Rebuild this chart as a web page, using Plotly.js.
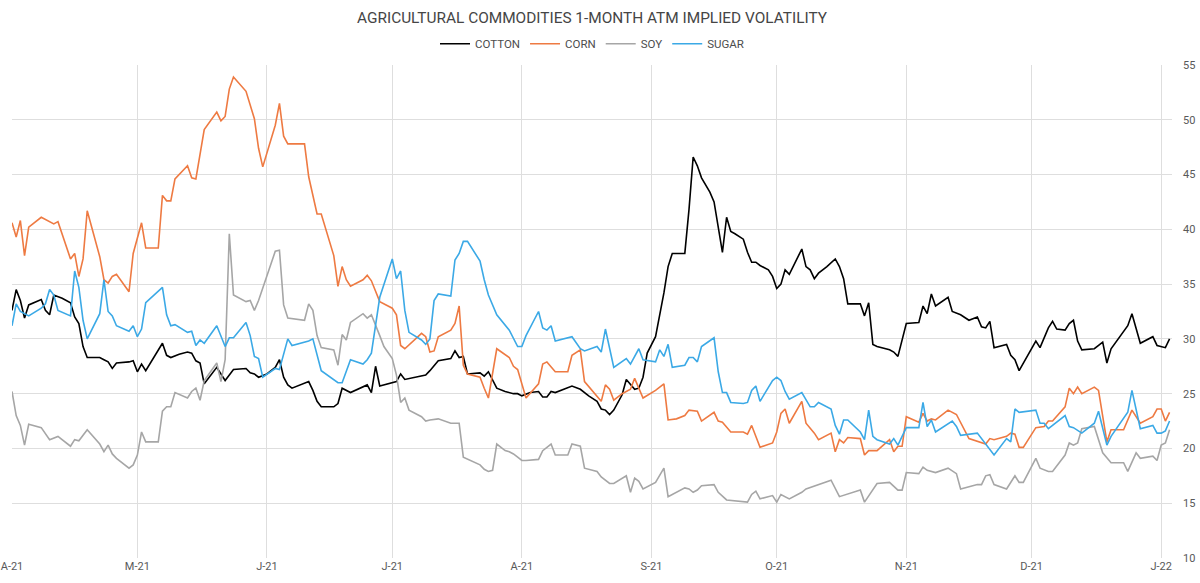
<!DOCTYPE html>
<html>
<head>
<meta charset="utf-8">
<script src="https://cdn.plot.ly/plotly-3.0.1.min.js"></script>
<style>html,body{margin:0;padding:0;background:#fff;}#chart{width:1200px;height:583px;}</style>
</head>
<body>
<div id="chart"></div>
<script>
const cottonDates = ["2021-04-01","2021-04-02","2021-04-03","2021-04-04","2021-04-05","2021-04-08","2021-04-09","2021-04-10","2021-04-11","2021-04-13","2021-04-15","2021-04-16","2021-04-17","2021-04-18","2021-04-19","2021-04-22","2021-04-23","2021-04-24","2021-04-25","2021-04-26","2021-04-29","2021-04-30","2021-05-01","2021-05-02","2021-05-03","2021-05-07","2021-05-08","2021-05-09","2021-05-11","2021-05-13","2021-05-14","2021-05-15","2021-05-16","2021-05-17","2021-05-20","2021-05-22","2021-05-24","2021-05-27","2021-05-28","2021-05-29","2021-05-30","2021-06-01","2021-06-03","2021-06-04","2021-06-05","2021-06-06","2021-06-07","2021-06-11","2021-06-12","2021-06-13","2021-06-14","2021-06-17","2021-06-18","2021-06-19","2021-06-21","2021-06-25","2021-06-26","2021-06-27","2021-06-28","2021-06-30","2021-07-02","2021-07-03","2021-07-04","2021-07-09","2021-07-10","2021-07-12","2021-07-15","2021-07-16","2021-07-17","2021-07-18","2021-07-19","2021-07-22","2021-07-23","2021-07-24","2021-07-26","2021-07-28","2021-07-30","2021-07-31","2021-08-01","2021-08-03","2021-08-05","2021-08-06","2021-08-07","2021-08-08","2021-08-09","2021-08-13","2021-08-15","2021-08-17","2021-08-19","2021-08-20","2021-08-21","2021-08-22","2021-08-23","2021-08-25","2021-08-26","2021-08-28","2021-08-29","2021-08-30","2021-08-31","2021-09-02","2021-09-03","2021-09-04","2021-09-05","2021-09-06","2021-09-09","2021-09-10","2021-09-11","2021-09-12","2021-09-13","2021-09-15","2021-09-16","2021-09-17","2021-09-18","2021-09-19","2021-09-20","2021-09-21","2021-09-23","2021-09-24","2021-09-25","2021-09-26","2021-09-27","2021-09-29","2021-09-30","2021-10-01","2021-10-02","2021-10-03","2021-10-04","2021-10-07","2021-10-08","2021-10-09","2021-10-10","2021-10-11","2021-10-13","2021-10-15","2021-10-16","2021-10-17","2021-10-18","2021-10-21","2021-10-22","2021-10-23","2021-10-24","2021-10-25","2021-10-28","2021-10-29","2021-10-30","2021-11-01","2021-11-04","2021-11-05","2021-11-06","2021-11-07","2021-11-08","2021-11-11","2021-11-12","2021-11-14","2021-11-16","2021-11-18","2021-11-19","2021-11-20","2021-11-21","2021-11-22","2021-11-25","2021-11-26","2021-11-27","2021-11-28","2021-12-02","2021-12-03","2021-12-05","2021-12-06","2021-12-07","2021-12-09","2021-12-10","2021-12-11","2021-12-12","2021-12-13","2021-12-16","2021-12-18","2021-12-19","2021-12-20","2021-12-24","2021-12-25","2021-12-27","2021-12-30","2021-12-31","2022-01-02","2022-01-03"];
const cottonVals = [32.6,34.5,33.5,31.9,33.1,33.6,32.6,32.2,34.0,33.7,33.3,32.0,31.4,29.3,28.3,28.3,28.1,27.9,27.3,27.8,27.9,28.0,27.0,27.7,27.1,29.6,28.5,28.3,28.6,28.8,28.7,28.0,27.8,25.9,27.4,26.2,27.2,27.3,26.9,26.8,26.5,26.8,27.4,28.1,26.5,25.8,25.5,26.1,25.3,24.3,23.8,23.8,24.1,25.5,25.1,25.8,25.1,27.5,25.7,25.9,26.1,26.8,26.3,26.7,27.1,28.0,28.2,28.9,28.3,28.4,26.8,26.9,26.6,27.0,25.5,25.2,25.0,25.0,24.8,25.1,25.2,24.7,24.7,25.2,25.1,25.7,25.4,24.8,24.3,23.6,23.5,23.1,23.5,24.9,26.3,25.4,25.5,26.5,28.7,30.2,32.1,34.2,36.6,37.8,37.8,41.8,46.6,45.8,44.7,43.4,42.5,40.2,37.9,41.1,39.8,39.6,39.1,37.9,37.0,37.0,36.7,36.3,35.7,34.6,35.0,36.3,35.9,38.2,36.6,36.3,35.5,36.0,36.6,37.3,36.6,35.5,33.2,33.2,32.1,33.3,29.5,29.3,29.0,28.8,28.4,31.4,31.5,33.0,32.3,34.1,33.0,33.8,32.5,32.2,31.7,32.0,31.1,31.0,31.6,29.2,29.5,28.5,28.1,27.1,29.8,29.2,31.0,31.6,30.9,30.8,31.4,31.7,29.8,29.0,29.1,29.7,27.8,29.1,31.2,32.3,29.6,30.2,29.4,29.2,30.0];

const cornDates = ["2021-04-01","2021-04-02","2021-04-03","2021-04-04","2021-04-05","2021-04-08","2021-04-11","2021-04-12","2021-04-15","2021-04-16","2021-04-17","2021-04-18","2021-04-19","2021-04-22","2021-04-23","2021-04-24","2021-04-25","2021-04-26","2021-04-29","2021-04-30","2021-05-02","2021-05-03","2021-05-06","2021-05-07","2021-05-08","2021-05-09","2021-05-10","2021-05-13","2021-05-14","2021-05-15","2021-05-17","2021-05-20","2021-05-21","2021-05-22","2021-05-23","2021-05-24","2021-05-27","2021-05-29","2021-05-30","2021-05-31","2021-06-03","2021-06-04","2021-06-05","2021-06-06","2021-06-10","2021-06-11","2021-06-13","2021-06-14","2021-06-17","2021-06-18","2021-06-19","2021-06-20","2021-06-21","2021-06-24","2021-06-25","2021-06-26","2021-06-28","2021-07-01","2021-07-02","2021-07-03","2021-07-04","2021-07-08","2021-07-09","2021-07-10","2021-07-11","2021-07-12","2021-07-15","2021-07-16","2021-07-17","2021-07-18","2021-07-19","2021-07-22","2021-07-23","2021-07-24","2021-07-26","2021-07-29","2021-07-30","2021-07-31","2021-08-02","2021-08-05","2021-08-06","2021-08-07","2021-08-09","2021-08-12","2021-08-13","2021-08-15","2021-08-16","2021-08-20","2021-08-21","2021-08-22","2021-08-23","2021-08-25","2021-08-27","2021-08-28","2021-08-30","2021-09-02","2021-09-04","2021-09-05","2021-09-07","2021-09-09","2021-09-10","2021-09-12","2021-09-13","2021-09-16","2021-09-17","2021-09-18","2021-09-20","2021-09-23","2021-09-24","2021-09-25","2021-09-27","2021-09-30","2021-10-01","2021-10-02","2021-10-03","2021-10-04","2021-10-07","2021-10-08","2021-10-10","2021-10-11","2021-10-14","2021-10-15","2021-10-16","2021-10-17","2021-10-18","2021-10-21","2021-10-22","2021-10-23","2021-10-25","2021-10-28","2021-10-29","2021-10-30","2021-10-31","2021-11-01","2021-11-04","2021-11-05","2021-11-06","2021-11-07","2021-11-08","2021-11-11","2021-11-13","2021-11-16","2021-11-20","2021-11-21","2021-11-22","2021-11-25","2021-11-26","2021-11-27","2021-11-28","2021-11-29","2021-12-02","2021-12-04","2021-12-05","2021-12-06","2021-12-09","2021-12-10","2021-12-11","2021-12-12","2021-12-13","2021-12-16","2021-12-17","2021-12-19","2021-12-20","2021-12-23","2021-12-25","2021-12-27","2021-12-30","2021-12-31","2022-01-01","2022-01-02","2022-01-03"];
const cornVals = [40.6,39.3,40.8,37.6,40.2,41.1,40.5,40.7,37.3,37.8,35.7,37.3,41.7,37.5,35.4,35.1,35.7,35.9,34.3,37.8,40.6,38.3,38.3,43.1,42.6,42.6,44.6,45.8,44.7,44.6,49.1,50.7,49.9,50.3,52.8,53.9,52.6,50.1,47.4,45.7,49.5,51.5,48.5,47.8,47.8,44.8,41.4,41.4,37.6,34.8,36.6,35.4,34.8,35.4,35.8,35.3,33.4,32.8,32.2,29.4,29.1,30.5,30.2,28.8,28.9,30.2,30.8,31.4,33.0,27.6,26.8,26.5,25.5,24.6,29.1,28.3,27.5,27.2,24.6,25.9,27.7,27.9,27.0,27.0,28.5,29.0,26.1,24.3,25.8,25.4,24.4,25.0,25.4,26.4,24.6,25.3,25.9,22.6,22.7,23.0,23.5,23.4,22.5,23.3,22.5,22.4,21.5,21.5,21.3,22.1,20.1,20.5,21.5,23.2,23.6,22.3,24.3,22.3,21.4,20.8,21.4,19.7,20.8,20.5,21.0,20.9,19.4,19.8,19.8,20.8,19.7,20.2,20.2,22.9,22.4,23.2,22.5,22.7,22.6,23.5,23.1,20.9,20.4,20.9,20.8,21.1,21.4,21.3,20.1,20.1,21.9,22.0,22.5,22.5,23.8,25.5,25.0,25.6,25.0,25.6,25.3,20.6,21.7,21.7,23.5,22.3,22.9,23.6,23.6,22.5,23.3];

const soyDates = ["2021-04-01","2021-04-02","2021-04-03","2021-04-04","2021-04-05","2021-04-08","2021-04-10","2021-04-12","2021-04-15","2021-04-16","2021-04-17","2021-04-19","2021-04-22","2021-04-23","2021-04-24","2021-04-25","2021-04-26","2021-04-29","2021-04-30","2021-05-01","2021-05-02","2021-05-03","2021-05-06","2021-05-07","2021-05-08","2021-05-09","2021-05-10","2021-05-13","2021-05-14","2021-05-15","2021-05-16","2021-05-17","2021-05-20","2021-05-21","2021-05-22","2021-05-23","2021-05-24","2021-05-27","2021-05-28","2021-05-29","2021-05-30","2021-06-03","2021-06-04","2021-06-05","2021-06-06","2021-06-10","2021-06-11","2021-06-12","2021-06-13","2021-06-14","2021-06-17","2021-06-18","2021-06-19","2021-06-20","2021-06-21","2021-06-24","2021-06-25","2021-06-26","2021-06-28","2021-06-29","2021-07-01","2021-07-02","2021-07-03","2021-07-04","2021-07-05","2021-07-08","2021-07-09","2021-07-10","2021-07-12","2021-07-15","2021-07-17","2021-07-18","2021-07-22","2021-07-23","2021-07-24","2021-07-25","2021-07-26","2021-07-28","2021-07-29","2021-07-30","2021-07-31","2021-08-01","2021-08-02","2021-08-05","2021-08-06","2021-08-08","2021-08-09","2021-08-12","2021-08-13","2021-08-15","2021-08-16","2021-08-19","2021-08-20","2021-08-22","2021-08-23","2021-08-26","2021-08-27","2021-08-28","2021-08-29","2021-08-30","2021-09-02","2021-09-04","2021-09-05","2021-09-09","2021-09-10","2021-09-11","2021-09-12","2021-09-13","2021-09-16","2021-09-17","2021-09-19","2021-09-24","2021-09-25","2021-09-26","2021-09-27","2021-09-30","2021-10-01","2021-10-02","2021-10-04","2021-10-07","2021-10-08","2021-10-11","2021-10-14","2021-10-16","2021-10-21","2021-10-22","2021-10-25","2021-10-28","2021-10-30","2021-10-31","2021-11-01","2021-11-04","2021-11-05","2021-11-06","2021-11-08","2021-11-11","2021-11-13","2021-11-14","2021-11-18","2021-11-19","2021-11-20","2021-11-21","2021-11-22","2021-11-25","2021-11-27","2021-11-28","2021-11-29","2021-12-02","2021-12-03","2021-12-05","2021-12-06","2021-12-09","2021-12-10","2021-12-11","2021-12-12","2021-12-13","2021-12-16","2021-12-18","2021-12-19","2021-12-20","2021-12-23","2021-12-24","2021-12-26","2021-12-27","2021-12-30","2021-12-31","2022-01-01","2022-01-02","2022-01-03"];
const soyVals = [25.2,23.0,22.1,20.3,22.2,21.9,20.8,21.1,20.2,20.8,20.7,21.7,20.4,19.7,20.3,19.5,19.1,18.2,18.5,19.4,21.5,20.6,20.6,23.4,23.8,23.8,25.1,24.6,25.2,25.5,24.4,26.2,27.8,26.1,28.1,39.6,34.0,33.4,33.5,32.6,33.5,38.0,38.1,33.1,31.9,31.7,33.2,32.6,30.3,29.2,29.0,27.6,30.4,29.9,31.5,32.3,31.9,32.2,30.3,29.3,28.2,26.7,24.2,24.6,23.5,22.9,22.5,22.6,22.7,22.3,22.3,19.2,18.5,18.1,17.9,18.0,20.4,19.8,19.7,19.5,19.2,18.9,18.9,19.0,19.8,20.4,19.4,19.4,20.4,20.2,18.2,17.9,17.4,16.8,16.8,17.5,16.0,17.3,17.0,16.3,16.9,18.2,15.6,16.4,16.3,16.0,16.2,16.6,16.7,16.0,15.3,15.1,15.8,16.1,15.4,15.7,15.1,15.8,15.4,16.0,16.3,16.7,17.1,15.6,16.2,15.1,16.8,16.9,16.2,16.2,17.8,17.7,18.3,18.0,17.8,18.2,17.7,16.3,16.7,16.7,17.5,17.6,16.7,16.3,17.5,16.9,16.9,19.1,18.2,17.9,17.9,19.4,20.5,20.3,20.5,21.8,22.0,19.6,19.1,18.7,18.7,17.9,19.6,19.1,19.3,18.9,20.3,20.5,21.7];

const sugarDates = ["2021-04-01","2021-04-02","2021-04-03","2021-04-05","2021-04-08","2021-04-09","2021-04-10","2021-04-11","2021-04-12","2021-04-15","2021-04-16","2021-04-17","2021-04-18","2021-04-19","2021-04-22","2021-04-23","2021-04-24","2021-04-25","2021-04-26","2021-04-29","2021-04-30","2021-05-01","2021-05-02","2021-05-03","2021-05-07","2021-05-08","2021-05-09","2021-05-10","2021-05-13","2021-05-14","2021-05-15","2021-05-16","2021-05-17","2021-05-20","2021-05-22","2021-05-23","2021-05-24","2021-05-27","2021-05-28","2021-05-29","2021-05-30","2021-05-31","2021-06-03","2021-06-04","2021-06-06","2021-06-07","2021-06-11","2021-06-12","2021-06-14","2021-06-17","2021-06-18","2021-06-19","2021-06-21","2021-06-24","2021-06-25","2021-06-26","2021-06-28","2021-07-01","2021-07-02","2021-07-03","2021-07-04","2021-07-05","2021-07-08","2021-07-09","2021-07-10","2021-07-11","2021-07-12","2021-07-15","2021-07-16","2021-07-17","2021-07-18","2021-07-19","2021-07-22","2021-07-23","2021-07-24","2021-07-26","2021-07-29","2021-07-31","2021-08-01","2021-08-02","2021-08-05","2021-08-06","2021-08-07","2021-08-08","2021-08-09","2021-08-13","2021-08-15","2021-08-16","2021-08-19","2021-08-20","2021-08-21","2021-08-23","2021-08-26","2021-08-27","2021-08-29","2021-08-30","2021-09-02","2021-09-03","2021-09-04","2021-09-05","2021-09-06","2021-09-09","2021-09-10","2021-09-11","2021-09-12","2021-09-13","2021-09-16","2021-09-17","2021-09-18","2021-09-19","2021-09-20","2021-09-23","2021-09-24","2021-09-25","2021-09-26","2021-09-27","2021-09-30","2021-10-01","2021-10-02","2021-10-03","2021-10-04","2021-10-07","2021-10-09","2021-10-10","2021-10-11","2021-10-14","2021-10-15","2021-10-16","2021-10-17","2021-10-18","2021-10-21","2021-10-22","2021-10-23","2021-10-24","2021-10-25","2021-10-28","2021-10-29","2021-10-30","2021-11-01","2021-11-04","2021-11-05","2021-11-06","2021-11-07","2021-11-08","2021-11-12","2021-11-13","2021-11-14","2021-11-18","2021-11-22","2021-11-25","2021-11-26","2021-11-27","2021-11-28","2021-12-02","2021-12-03","2021-12-04","2021-12-05","2021-12-09","2021-12-10","2021-12-11","2021-12-13","2021-12-16","2021-12-17","2021-12-19","2021-12-20","2021-12-24","2021-12-25","2021-12-27","2021-12-30","2021-12-31","2022-01-01","2022-01-02","2022-01-03"];
const sugarVals = [31.2,33.2,32.5,32.1,32.8,33.2,34.5,34.0,32.6,32.1,36.2,34.7,31.7,30.0,32.3,35.4,32.5,32.1,31.2,30.7,31.2,30.2,30.9,33.3,34.7,32.2,31.2,31.3,30.6,30.7,29.4,29.9,29.6,31.2,29.3,30.1,30.1,31.5,30.3,28.4,28.2,26.5,27.3,27.2,30.0,29.4,29.8,30.0,27.1,26.3,26.0,26.0,28.1,27.7,28.1,28.7,33.8,37.3,35.5,36.2,32.6,30.6,29.9,29.5,30.0,33.5,34.1,33.9,37.2,37.8,38.9,38.9,37.1,35.4,34.0,32.2,30.8,29.3,29.3,30.3,32.5,31.0,30.8,31.2,29.8,30.2,29.1,28.9,29.3,28.8,30.9,27.4,28.2,27.7,29.1,28.1,27.9,29.0,28.4,29.5,27.4,27.6,28.3,28.3,27.9,29.3,30.1,27.0,25.1,25.1,24.2,24.1,24.2,25.3,25.7,24.3,26.2,26.5,26.2,25.2,24.5,25.1,23.8,23.8,24.2,23.6,22.1,21.3,22.6,22.6,21.5,20.8,23.5,21.1,20.8,20.4,20.9,20.3,21.9,21.9,24.2,22.0,22.6,21.5,22.5,22.0,21.2,21.4,19.4,20.9,20.6,23.6,23.3,23.5,22.3,22.3,21.8,23.0,22.0,21.9,21.4,22.3,23.4,20.3,21.1,23.3,25.3,21.8,22.1,21.4,21.4,21.6,22.5];

const tickDates = ["2021-04-01","2021-05-01","2021-06-01","2021-07-01","2021-08-01","2021-09-01","2021-10-01","2021-11-01","2021-12-01","2022-01-01"];
const tickLabels = ["A-21","M-21","J-21","J-21","A-21","S-21","O-21","N-21","D-21","J-22"];
const yTicks = [10,15,20,25,30,35,40,45,50,55];

const seriesNames = ["COTTON","CORN","SOY","SUGAR"];
const seriesColors = ["#000000","#EE7A42","#A6A6A6","#3BA9E6"];
const seriesX = [cottonDates, cornDates, soyDates, sugarDates];
const seriesY = [cottonVals, cornVals, soyVals, sugarVals];

const traces = seriesNames.map((n, i) => ({
  type: "scatter", mode: "lines", name: n,
  x: seriesX[i], y: seriesY[i],
  line: {color: seriesColors[i], width: 1.6},
  hoverinfo: "skip"
}));

const font = "Roboto, 'DejaVu Sans', sans-serif";
const layout = {
  width: 1200, height: 583,
  margin: {l: 12, r: 28, t: 65, b: 25, pad: 0},
  paper_bgcolor: "#ffffff", plot_bgcolor: "#ffffff",
  font: {family: font, color: "#595959", size: 11},
  title: {text: "AGRICULTURAL COMMODITIES 1-MONTH ATM IMPLIED VOLATILITY",
          font: {family: font, size: 15.4, color: "#454545"},
          x: 0.5, xanchor: "center", xref: "paper", y: 0.969, yref: "container", yanchor: "middle"},
  showlegend: true,
  legend: {orientation: "h", x: 0.5, xanchor: "center", xref: "paper",
           y: 1.043, yanchor: "middle", font: {size: 11.5, color: "#4d4d4d"},
           itemwidth: 30, tracegroupgap: 0, bgcolor: "rgba(0,0,0,0)"},
  xaxis: {type: "date", range: ["2021-04-01", "2022-01-03 14:00"],
          tickmode: "array", tickvals: tickDates, ticktext: tickLabels,
          showgrid: true, gridcolor: "#dedede", gridwidth: 1,
          zeroline: false, showline: false, ticks: "",
          tickfont: {size: 11, color: "#595959"}, fixedrange: true},
  yaxis: {side: "right", range: [10, 55], tickmode: "array", tickvals: yTicks,
          showgrid: true, gridcolor: "#dedede", gridwidth: 1,
          zeroline: false, showline: false, ticks: "",
          ticklabelstandoff: 10,
          tickfont: {size: 11, color: "#595959"}, fixedrange: true},
  hovermode: false
};

Plotly.newPlot("chart", traces, layout, {displayModeBar: false, staticPlot: true});
</script>
</body>
</html>
